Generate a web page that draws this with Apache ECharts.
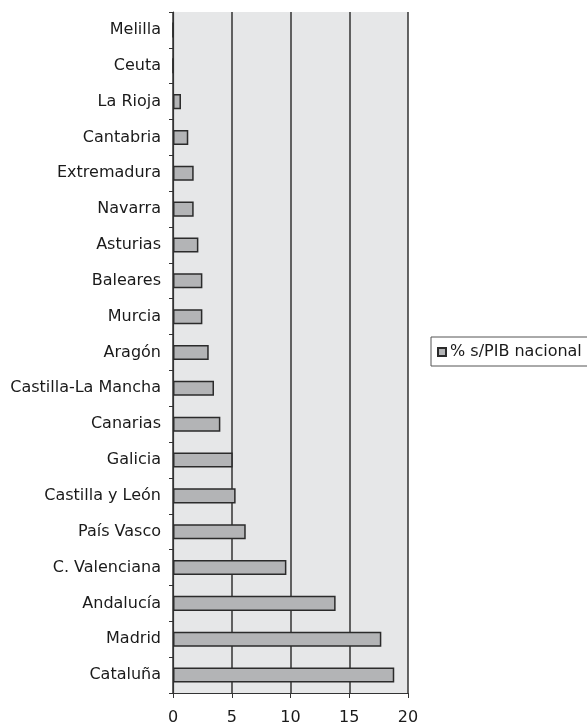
<!DOCTYPE html>
<html>
<head>
<meta charset="utf-8">
<script src="https://cdn.jsdelivr.net/npm/echarts@6/dist/echarts.min.js"></script>
<style>
  html, body { margin: 0; padding: 0; background: #ffffff; }
  #chart { width: 587px; height: 724px; }
</style>
</head>
<body>
<div id="chart"></div>
<script>
// regions, top to bottom
const regions = [
  'Melilla', 'Ceuta', 'La Rioja', 'Cantabria', 'Extremadura', 'Navarra',
  'Asturias', 'Baleares', 'Murcia', 'Aragón', 'Castilla-La Mancha',
  'Canarias', 'Galicia', 'Castilla y León', 'País Vasco', 'C. Valenciana',
  'Andalucía', 'Madrid', 'Cataluña'
];
const pibShare = [
  0, 0, 0.68, 1.3, 1.76, 1.76,
  2.16, 2.5, 2.5, 3.04, 3.49,
  4.03, 5.08, 5.33, 6.19, 9.65,
  13.84, 17.73, 18.83
];
const xTicks = [0, 5, 10, 15, 20];

const chart = echarts.init(document.getElementById('chart'));

const option = {
  animation: false,
  textStyle: { fontFamily: 'DejaVu Sans, sans-serif' },
  legend: {
    data: ['% s/PIB nacional'],
    icon: 'rect',
    left: 431,
    top: 337,
    orient: 'vertical',
    backgroundColor: '#ffffff',
    borderColor: '#555555',
    borderWidth: 1,
    padding: [7, 40, 6, 6],
    itemWidth: 8,
    itemHeight: 8,
    itemGap: 0,
    textStyle: { fontSize: 16, color: '#1a1a1a', padding: [0, 0, 0, -1] }
  },
  grid: {
    left: 173,
    top: 12,
    right: 179,
    bottom: 31,
    outerBoundsMode: 'none',
    containLabel: false,
    show: true,
    backgroundColor: '#e6e7e8',
    borderWidth: 0
  },
  xAxis: {
    type: 'value',
    min: xTicks[0],
    max: xTicks[xTicks.length - 1],
    interval: 5,
    axisLine: { show: true, lineStyle: { color: '#333333', width: 1.2 } },
    axisTick: { show: true, length: 5, lineStyle: { color: '#333333' } },
    axisLabel: { fontSize: 16, color: '#1a1a1a', margin: 17 },
    splitLine: { show: true, lineStyle: { color: '#333333', width: 1.5 } }
  },
  yAxis: {
    type: 'category',
    data: regions,
    inverse: true,
    axisLine: { show: true, lineStyle: { color: '#333333', width: 1.2 } },
    axisTick: { show: true, length: 4, lineStyle: { color: '#333333' } },
    axisLabel: { fontSize: 16, color: '#1a1a1a', margin: 12 },
    splitLine: { show: false }
  },
  series: [
    {
      name: '% s/PIB nacional',
      type: 'bar',
      data: pibShare,
      barCategoryGap: '58%',
      itemStyle: {
        color: '#b3b4b6',
        borderColor: '#2b2b2b',
        borderWidth: 1.5
      }
    }
  ]
};

chart.setOption(option);
</script>
</body>
</html>
